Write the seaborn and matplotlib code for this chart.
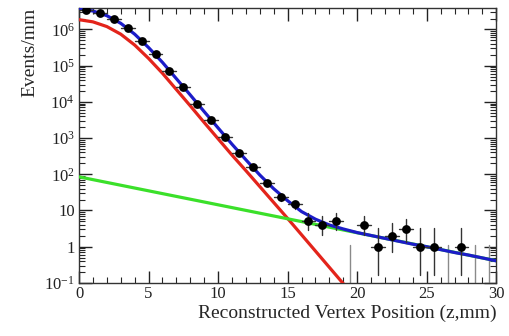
import numpy as np
import pandas as pd
import matplotlib
matplotlib.use("Agg")
import matplotlib.pyplot as plt
import matplotlib.ticker as mticker
import seaborn as sns

# ---------------- data ----------------
bin_centers = [0.5, 1.5, 2.5, 3.5, 4.5, 5.5, 6.5, 7.5, 8.5, 9.5,
               10.5, 11.5, 12.5, 13.5, 14.5, 15.5, 16.5, 17.5, 18.5, 19.5,
               20.5, 21.5, 22.5, 23.5, 24.5, 25.5, 26.5, 27.5, 28.5, 29.5]
counts = [3.55e6, 2.82e6, 2.0e6, 1.1e6, 4.9e5, 2.04e5, 7.2e4, 2.6e4, 8.9e3, 3.2e3,
          1070, 380, 155, 56, 23, 15, 5, 4, 5, 0,
          4, 1, 2, 3, 1, 1, 0, 1, 0, 0]

# small-count asymmetric (Poisson) intervals
poisson_low = {0: 0.0, 1: 0.17, 2: 0.71, 3: 1.37, 4: 2.09, 5: 2.84}
poisson_high = {0: 1.15, 1: 3.30, 2: 4.64, 3: 5.92, 4: 7.16, 5: 8.38}

# fit curves (log10 of Events/mm) sampled every mm
curve_z = list(range(0, 31))
total_log = [6.57, 6.51, 6.38, 6.17, 5.87, 5.50, 5.09, 4.64, 4.19, 3.73,
             3.28, 2.83, 2.40, 1.98, 1.60, 1.27, 0.97, 0.76, 0.60, 0.49,
             0.39, 0.31, 0.23, 0.15, 0.07, 0.00, -0.08, -0.16, -0.23, -0.31, -0.39]
signal_z = list(range(0, 21))
signal_log = [6.27, 6.21, 6.08, 5.87, 5.57, 5.20, 4.79, 4.34, 3.89, 3.43,
              2.98, 2.53, 2.10, 1.66, 1.22, 0.78, 0.33, -0.12, -0.57, -1.02, -1.47]
bkg_z = [0, 30]
bkg_vals = [85.0, 0.41]

x_ticks = [0, 5, 10, 15, 20, 25, 30]
y_ticks = [0.1, 1, 10, 1e2, 1e3, 1e4, 1e5, 1e6]
y_ticklabels = [r"$10^{-1}$", "1", "10", r"$10^{2}$", r"$10^{3}$", r"$10^{4}$", r"$10^{5}$", r"$10^{6}$"]

# ---------------- style ----------------
sns.set_theme(style="ticks")
plt.rcParams["font.family"] = ["Liberation Serif", "DejaVu Serif"]
plt.rcParams["mathtext.fontset"] = "custom"
plt.rcParams["mathtext.rm"] = "Liberation Serif"
plt.rcParams["mathtext.it"] = "Liberation Serif:italic"
plt.rcParams["mathtext.bf"] = "Liberation Serif:bold"

fig = plt.figure(figsize=(5.10, 3.36), dpi=100)
ax = fig.add_axes([0.155, 0.158, 0.818, 0.818])

df_total = pd.DataFrame({"z": curve_z, "v": [10 ** v for v in total_log]})
df_sig = pd.DataFrame({"z": signal_z, "v": [10 ** v for v in signal_log]})
df_bkg = pd.DataFrame({"z": bkg_z, "v": bkg_vals})

sns.lineplot(data=df_sig, x="z", y="v", ax=ax, color="#e3241b", lw=2.3, zorder=3)
sns.lineplot(data=df_bkg, x="z", y="v", ax=ax, color="#3be02a", lw=2.3, zorder=3)
sns.lineplot(data=df_total, x="z", y="v", ax=ax, color="#1c1cc8", lw=2.3, zorder=4)

# data points with error bars
for zc, n in zip(bin_centers, counts):
    if n in poisson_high:
        lo, hi = poisson_low[n], poisson_high[n]
    else:
        lo, hi = n - np.sqrt(n), n + np.sqrt(n)
    if n == 0:
        ax.plot([zc, zc], [0.05, hi], color="#8a8a8a", lw=1.0, zorder=2)
        continue
    ax.plot([zc, zc], [max(lo, 0.05), hi], color="#333333", lw=1.0, zorder=5)
    ax.plot([zc - 0.5, zc + 0.5], [n, n], color="#333333", lw=1.0, zorder=5)

pts = pd.DataFrame({"z": bin_centers, "n": counts})
pts = pts[pts["n"] > 0]
sns.scatterplot(data=pts, x="z", y="n", ax=ax, color="black", s=40,
                edgecolor="black", linewidth=0, zorder=6)

ax.set_yscale("log")
ax.set_xlim(0, 30)
ax.set_ylim(0.1, 3.9e6)

ax.set_xticks(x_ticks)
ax.set_xticklabels([str(t) for t in x_ticks])
ax.xaxis.set_minor_locator(mticker.MultipleLocator(1))
ax.yaxis.set_major_locator(mticker.FixedLocator(y_ticks))
ax.yaxis.set_major_formatter(mticker.FixedFormatter(y_ticklabels))
ax.yaxis.set_minor_locator(mticker.LogLocator(base=10, subs=np.arange(2, 10), numticks=20))
ax.yaxis.set_minor_formatter(mticker.NullFormatter())

ax.tick_params(axis="both", which="major", direction="in", length=9, width=1.0,
               top=True, right=True, labelsize=12, colors="#222222", pad=2)
ax.tick_params(axis="both", which="minor", direction="in", length=4.5, width=0.8,
               top=True, right=True)
ax.tick_params(axis="y", which="major", pad=3)
for s in ax.spines.values():
    s.set_linewidth(1.0)
    s.set_color("#333333")

ax.set_xlabel("Reconstructed Vertex Position (z,mm)", fontsize=14, ha="right", x=1.0, labelpad=2)
ax.set_ylabel("Events/mm", fontsize=14, ha="right", y=1.0, labelpad=4)

fig.savefig("out.png", dpi=100)
